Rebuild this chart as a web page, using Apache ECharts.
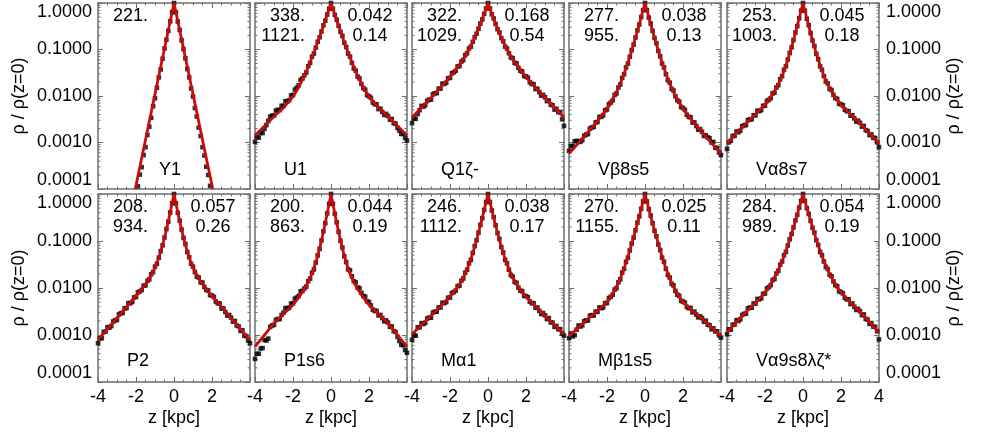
<!DOCTYPE html>
<html><head><meta charset="utf-8">
<script src="https://cdn.jsdelivr.net/npm/echarts@6/dist/echarts.min.js"></script>
<style>html,body{margin:0;padding:0;background:#fff}#c{width:981px;height:435px}</style>
</head><body><div id="c"></div>
<script>
// ---------- data ----------
const panelNames = ['Y1','U1','Q1ζ-','Vβ8s5','Vα8s7','P2','P1s6','Mα1','Mβ1s5','Vα9s8λζ*'];
const thinH  = ['221.','338.','322.','277.','253.','208.','200.','246.','270.','284.'];
const thickH = ['','1121.','1029.','955.','1003.','934.','863.','1112.','1155.','989.'];
const ratio  = ['','0.042','0.168','0.038','0.045','0.057','0.044','0.038','0.025','0.054'];
const frac   = ['','0.14','0.54','0.13','0.18','0.26','0.19','0.17','0.11','0.19'];
const xTicks = [-4,-2,0,2,4];
const yTicks = [0.0001,0.001,0.01,0.1,1];
const yMinorTicks = [2e-4,3e-4,4e-4,5e-4,6e-4,7e-4,8e-4,9e-4,2e-3,3e-3,4e-3,5e-3,6e-3,7e-3,8e-3,9e-3,
  0.02,0.03,0.04,0.05,0.06,0.07,0.08,0.09,0.2,0.3,0.4,0.5,0.6,0.7,0.8,0.9];

// fit curves (red)
const fitZ = [-4,-3.5,-3,-2.5,-2,-1.8,-1.6,-1.4,-1.2,-1,-0.9,-0.8,-0.7,-0.6,-0.5,-0.4,-0.3,-0.2,-0.1,0,
  0.1,0.2,0.3,0.4,0.5,0.6,0.7,0.8,0.9,1,1.2,1.4,1.6,1.8,2,2.5,3,3.5,4];
const fitZY1 = [-2.04,0,2.04];
const fitY1 = [1e-4,1,1e-4];
const fitU1 = [0.00142,0.00226,0.00363,0.0056,0.00964,0.0131,0.0185,0.0273,0.0419,0.067,0.0857,0.110,0.143,0.187,0.245,0.323,0.427,0.565,0.751,1,
  0.751,0.565,0.427,0.323,0.245,0.187,0.143,0.110,0.0857,0.067,0.0419,0.0273,0.0185,0.0131,0.00964,0.0056,0.00363,0.00226,0.00142];
const fitQ1 = [0.00344,0.0056,0.00918,0.0151,0.0257,0.0323,0.0413,0.0538,0.0723,0.1007,0.1208,0.1466,0.180,0.223,0.279,0.354,0.453,0.585,0.762,1,
  0.762,0.585,0.453,0.354,0.279,0.223,0.180,0.1466,0.1208,0.1007,0.0723,0.0538,0.0413,0.0323,0.0257,0.0151,0.00918,0.0056,0.00344];
const fitVb8s5 = [5.75e-4,9.7e-4,0.00166,0.00289,0.00538,0.00723,0.0101,0.0149,0.0234,0.0394,0.0521,0.070,0.0953,0.1306,0.181,0.252,0.353,0.498,0.705,1,
  0.705,0.498,0.353,0.252,0.181,0.1306,0.0953,0.070,0.0521,0.0394,0.0234,0.0149,0.0101,0.00723,0.00538,0.00289,0.00166,9.7e-4,5.75e-4];
const fitVa8s7 = [9.57e-4,0.00158,0.00259,0.00404,0.00649,0.00826,0.01084,0.0149,0.0219,0.0349,0.0456,0.0607,0.0824,0.1138,0.160,0.226,0.325,0.470,0.684,1,
  0.684,0.470,0.325,0.226,0.160,0.1138,0.0824,0.0607,0.0456,0.0349,0.0219,0.0149,0.01084,0.00826,0.00649,0.00404,0.00259,0.00158,9.57e-4];
const fitP2 = [7.87e-4,0.00134,0.0023,0.00392,0.00676,0.00846,0.0107,0.0139,0.0187,0.0272,0.0342,0.0443,0.0595,0.0827,0.1186,0.175,0.264,0.406,0.634,1,
  0.634,0.406,0.264,0.175,0.1186,0.0827,0.0595,0.0443,0.0342,0.0272,0.0187,0.0139,0.0107,0.00846,0.00676,0.00392,0.0023,0.00134,7.87e-4];
const fitP1s6 = [5.64e-4,1.0e-3,0.00179,0.00279,0.00438,0.00558,0.00721,0.00955,0.0133,0.0202,0.0261,0.0349,0.0484,0.0695,0.103,0.157,0.244,0.386,0.619,1,
  0.619,0.386,0.244,0.157,0.103,0.0695,0.0484,0.0349,0.0261,0.0202,0.0133,0.00955,0.00721,0.00558,0.00438,0.00279,0.00179,1.0e-3,5.64e-4];
const fitMa1 = [0.00104,0.00163,0.00256,0.00405,0.00658,0.00817,0.01045,0.0140,0.0202,0.032,0.0417,0.0557,0.0762,0.106,0.150,0.216,0.313,0.458,0.676,1,
  0.676,0.458,0.313,0.216,0.150,0.106,0.0762,0.0557,0.0417,0.032,0.0202,0.0140,0.01045,0.00817,0.00658,0.00405,0.00256,0.00163,0.00104];
const fitMb1s5 = [9.42e-4,0.00145,0.00224,0.00324,0.00502,0.0065,0.00885,0.0129,0.0203,0.0345,0.0462,0.063,0.0865,0.1205,0.169,0.239,0.340,0.485,0.697,1,
  0.697,0.485,0.340,0.239,0.169,0.1205,0.0865,0.063,0.0462,0.0345,0.0203,0.0129,0.00885,0.0065,0.00502,0.00324,0.00224,0.00145,9.42e-4];
const fitVa9 = [0.00114,0.00189,0.00313,0.00488,0.00798,0.0104,0.0141,0.01995,0.0299,0.0476,0.0615,0.0805,0.107,0.1439,0.195,0.267,0.369,0.512,0.714,1,
  0.714,0.512,0.369,0.267,0.195,0.1439,0.107,0.0805,0.0615,0.0476,0.0299,0.01995,0.0141,0.0104,0.00798,0.00488,0.00313,0.00189,0.00114];

// measured points (black), at z = -4.0 ... 4.0 step 0.1
const pointZ = [-4,-3.9,-3.8,-3.7,-3.6,-3.5,-3.4,-3.3,-3.2,-3.1,-3,-2.9,-2.8,-2.7,-2.6,-2.5,-2.4,-2.3,-2.2,-2.1,
  -2,-1.9,-1.8,-1.7,-1.6,-1.5,-1.4,-1.3,-1.2,-1.1,-1,-0.9,-0.8,-0.7,-0.6,-0.5,-0.4,-0.3,-0.2,-0.1,0,
  0.1,0.2,0.3,0.4,0.5,0.6,0.7,0.8,0.9,1,1.1,1.2,1.3,1.4,1.5,1.6,1.7,1.8,1.9,2,
  2.1,2.2,2.3,2.4,2.5,2.6,2.7,2.8,2.9,3,3.1,3.2,3.3,3.4,3.5,3.6,3.7,3.8,3.9,4];
const ptsY1 = [null,null,null,null,null,null,null,null,null,null,null,null,null,null,null,null,null,null,null,null,null,
  1.15e-4,2.04e-4,2.95e-4,5.37e-4,7.94e-4,1.45e-3,2.19e-3,3.39e-3,6.03e-3,8.91e-3,0.0151,0.0251,0.0372,0.0631,0.105,0.162,0.251,0.405,0.635,1,
  0.635,0.398,0.263,0.158,0.102,0.0646,0.038,0.0251,0.0145,9.77e-3,5.5e-3,3.63e-3,2.09e-3,1.38e-3,7.94e-4,5.25e-4,3.02e-4,2.0e-4,1.17e-4,
  null,null,null,null,null,null,null,null,null,null,null,null,null,null,null,null,null,null,null,null,null];
const ptsU1 = [1.03e-3,1.31e-3,1.27e-3,1.60e-3,1.60e-3,1.97e-3,2.37e-3,2.92e-3,3.61e-3,3.78e-3,3.80e-3,4.85e-3,5.04e-3,5.0e-3,6.14e-3,6.14e-3,7.76e-3,7.66e-3,8.15e-3,0.01026,
  0.01057,0.01374,0.01503,0.0170,0.0222,0.0239,0.0279,0.0321,0.0439,0.0515,0.0702,0.0818,0.110,0.1466,0.183,0.245,0.330,0.417,0.565,0.751,1,
  0.751,0.552,0.437,0.323,0.240,0.196,0.140,0.113,0.0818,0.0702,0.0515,0.0391,0.0352,0.0261,0.0239,0.0181,0.0148,0.0137,0.0104,9.86e-3,
  9.14e-3,7.26e-3,6.67e-3,6.61e-3,5.22e-3,5.35e-3,4.56e-3,3.91e-3,4.13e-3,3.72e-3,3.08e-3,3.21e-3,2.60e-3,2.54e-3,2.06e-3,1.79e-3,1.53e-3,1.53e-3,1.25e-3,1.10e-3];
const ptsQ1 = [2.61e-3,3.30e-3,3.24e-3,4.11e-3,4.97e-3,6.14e-3,5.89e-3,6.35e-3,7.85e-3,8.32e-3,8.38e-3,0.01086,0.01146,0.01153,0.01432,0.01445,0.0184,0.0182,0.0193,0.0241,
  0.0245,0.0308,0.0323,0.0348,0.0433,0.0439,0.0551,0.0594,0.0757,0.083,0.1054,0.1153,0.1466,0.184,0.218,0.279,0.362,0.443,0.585,0.762,1,
  0.762,0.571,0.463,0.354,0.273,0.233,0.176,0.150,0.1153,0.1054,0.083,0.0675,0.0652,0.0514,0.0504,0.0404,0.0348,0.0338,0.0269,0.0263,
  0.0247,0.0198,0.0182,0.0180,0.0141,0.0143,0.0121,0.0102,0.0106,9.4e-3,7.76e-3,8.04e-3,6.5e-3,6.31e-3,5.1e-3,5.32e-3,4.51e-3,4.48e-3,3.16e-3,2.28e-3];
const ptsVb8s5 = [6.61e-4,8.43e-4,8.36e-4,1.06e-3,1.08e-3,1.07e-3,1.03e-3,1.12e-3,1.40e-3,1.48e-3,1.52e-3,1.98e-3,2.11e-3,2.16e-3,2.70e-3,2.76e-3,3.56e-3,3.57e-3,3.86e-3,4.92e-3,
  5.14e-3,6.65e-3,7.23e-3,8.09e-3,0.01057,0.01138,0.01524,0.0177,0.0245,0.0294,0.0412,0.0498,0.070,0.0975,0.1276,0.181,0.258,0.345,0.498,0.705,1,
  0.705,0.486,0.361,0.252,0.177,0.1368,0.0931,0.0716,0.0498,0.0412,0.0294,0.0219,0.0194,0.0142,0.0131,9.86e-3,8.09e-3,7.57e-3,5.79e-3,5.51e-3,
  5.04e-3,3.95e-3,3.57e-3,3.48e-3,2.70e-3,2.70e-3,2.26e-3,1.88e-3,1.94e-3,1.70e-3,1.38e-3,1.43e-3,1.29e-3,1.24e-3,9.95e-4,1.03e-3,7.71e-4,7.62e-4,6.11e-4,5.37e-4];
const ptsVa8s7 = [7.26e-4,1.01e-3,1.09e-3,1.38e-3,1.39e-3,1.73e-3,1.66e-3,1.79e-3,2.23e-3,2.35e-3,2.37e-3,3.03e-3,3.15e-3,3.15e-3,3.86e-3,3.85e-3,4.84e-3,4.73e-3,4.97e-3,6.15e-3,
  6.19e-3,7.82e-3,8.26e-3,9.0e-3,0.01135,0.01178,0.01524,0.0171,0.023,0.0267,0.0366,0.0436,0.0607,0.0843,0.111,0.160,0.232,0.318,0.470,0.684,1,
  0.684,0.459,0.333,0.226,0.156,0.119,0.0805,0.0621,0.0436,0.0366,0.0267,0.0205,0.0187,0.0142,0.0135,0.0106,9.0e-3,8.65e-3,6.81e-3,6.64e-3,
  6.3e-3,5.08e-3,4.73e-3,4.73e-3,3.77e-3,3.86e-3,3.30e-3,2.81e-3,2.96e-3,2.65e-3,2.19e-3,2.28e-3,1.84e-3,1.78e-3,1.44e-3,1.49e-3,1.26e-3,1.25e-3,1.01e-3,7.96e-4];
const ptsP2 = [6.7e-4,8.5e-4,8.5e-4,1.16e-3,1.18e-3,1.47e-3,1.43e-3,1.55e-3,1.94e-3,2.06e-3,2.09e-3,2.74e-3,2.91e-3,2.95e-3,3.69e-3,3.74e-3,4.79e-3,4.74e-3,5.05e-3,6.3e-3,
  6.46e-3,8.1e-3,8.45e-3,9.08e-3,0.0112,0.0113,0.0142,0.0153,0.0196,0.0218,0.0285,0.0327,0.0443,0.061,0.0809,0.1186,0.1795,0.258,0.406,0.634,1,
  0.634,0.397,0.270,0.175,0.116,0.0867,0.0582,0.0453,0.0327,0.0285,0.0218,0.0175,0.0167,0.0132,0.0130,0.0105,9.1e-3,8.85e-3,7.06e-3,6.92e-3,
  6.44e-3,5.16e-3,4.74e-3,4.68e-3,3.66e-3,3.69e-3,3.09e-3,2.59e-3,2.67e-3,2.35e-3,1.92e-3,1.99e-3,1.59e-3,1.53e-3,1.22e-3,1.26e-3,9.7e-4,9.5e-4,7.6e-4,6.7e-4];
const ptsP1s6 = [3.10e-4,3.99e-4,3.99e-4,5.15e-4,5.27e-4,7.8e-4,7.64e-4,8.38e-4,1.49e-3,1.60e-3,1.64e-3,2.10e-3,2.19e-3,2.18e-3,2.67e-3,2.99e-3,3.75e-3,3.65e-3,3.80e-3,4.67e-3,
  4.69e-3,5.94e-3,6.27e-3,6.78e-3,8.47e-3,8.67e-3,9.77e-3,0.0107,0.01396,0.01585,0.0212,0.0249,0.0349,0.0495,0.0679,0.103,0.161,0.239,0.386,0.619,1,
  0.619,0.378,0.250,0.157,0.1007,0.0728,0.0473,0.0357,0.0249,0.0238,0.0178,0.01396,0.01315,0.01023,9.95e-3,7.91e-3,6.78e-3,6.56e-3,5.18e-3,5.02e-3,
  4.26e-3,3.47e-3,3.25e-3,3.27e-3,2.61e-3,2.67e-3,2.29e-3,1.95e-3,2.05e-3,1.84e-3,1.49e-3,1.52e-3,1.21e-3,1.16e-3,9.16e-4,7.45e-4,6.19e-4,6.04e-4,4.80e-4,4.18e-4];
const ptsMa1 = [7.89e-4,9.91e-4,9.66e-4,1.46e-3,1.46e-3,1.79e-3,1.71e-3,1.82e-3,2.24e-3,2.34e-3,2.33e-3,3.0e-3,3.13e-3,3.13e-3,3.84e-3,3.86e-3,4.86e-3,4.76e-3,5.01e-3,6.22e-3,
  6.28e-3,7.83e-3,8.17e-3,8.79e-3,0.01094,0.01122,0.01435,0.0159,0.0212,0.0245,0.0335,0.0398,0.0557,0.078,0.1038,0.150,0.221,0.306,0.458,0.676,1,
  0.676,0.448,0.321,0.216,0.147,0.111,0.0745,0.0570,0.0398,0.0335,0.0245,0.0189,0.0175,0.0134,0.0129,0.0102,8.79e-3,8.55e-3,6.82e-3,6.73e-3,
  6.37e-3,5.13e-3,4.76e-3,4.75e-3,3.78e-3,3.84e-3,3.27e-3,2.79e-3,2.93e-3,2.62e-3,2.18e-3,2.29e-3,1.87e-3,1.83e-3,1.49e-3,1.56e-3,1.33e-3,1.33e-3,1.09e-3,9.7e-4];
const ptsMb1s5 = [8.59e-4,1.08e-3,9.31e-4,9.93e-4,1.30e-3,1.59e-3,1.51e-3,1.61e-3,1.97e-3,2.05e-3,2.04e-3,2.57e-3,2.65e-3,2.60e-3,3.15e-3,3.10e-3,3.85e-3,3.72e-3,3.87e-3,4.76e-3,
  4.80e-3,6.10e-3,6.50e-3,7.19e-3,9.27e-3,9.89e-3,0.0132,0.0153,0.0212,0.0256,0.0361,0.0442,0.063,0.0885,0.118,0.169,0.245,0.333,0.485,0.697,1,
  0.697,0.474,0.348,0.239,0.165,0.126,0.0845,0.0644,0.0442,0.0361,0.0256,0.0189,0.0167,0.0123,0.0114,8.65e-3,7.19e-3,6.81e-3,5.31e-3,5.14e-3,
  4.88e-3,3.96e-3,3.72e-3,3.76e-3,3.03e-3,3.15e-3,2.72e-3,2.37e-3,2.51e-3,2.29e-3,1.91e-3,2.02e-3,1.65e-3,1.62e-3,1.32e-3,1.39e-3,1.19e-3,1.20e-3,9.82e-4,8.79e-4];
const ptsVa9 = [1.04e-3,1.32e-3,1.30e-3,1.65e-3,1.67e-3,2.07e-3,1.99e-3,2.15e-3,2.67e-3,2.82e-3,2.85e-3,3.68e-3,3.83e-3,3.81e-3,4.68e-3,4.66e-3,5.86e-3,5.75e-3,6.05e-3,7.52e-3,
  7.62e-3,9.75e-3,0.01042,0.0115,0.01476,0.01556,0.0204,0.0232,0.0313,0.0366,0.0499,0.0587,0.0805,0.1094,0.1406,0.195,0.274,0.361,0.512,0.714,1,
  0.714,0.500,0.378,0.267,0.191,0.151,0.1045,0.0824,0.0587,0.0499,0.0366,0.0279,0.0254,0.0191,0.0179,0.0138,0.0115,0.0109,8.49e-3,8.17e-3,
  7.69e-3,6.19e-3,5.75e-3,5.73e-3,4.55e-3,4.68e-3,3.99e-3,3.41e-3,3.60e-3,3.20e-3,2.64e-3,2.74e-3,2.20e-3,2.13e-3,1.72e-3,1.79e-3,1.51e-3,1.49e-3,1.20e-3,8.05e-4];

const fits = [fitY1,fitU1,fitQ1,fitVb8s5,fitVa8s7,fitP2,fitP1s6,fitMa1,fitMb1s5,fitVa9];
const pts = [ptsY1,ptsU1,ptsQ1,ptsVb8s5,ptsVa8s7,ptsP2,ptsP1s6,ptsMa1,ptsMb1s5,ptsVa9];

// ---------- layout ----------
const colLeft = [98,255,412,569,727];
const rowTop = [3,194];
const rowH = [186,188];
const pw = 152;
const axisColor = '#6e6e6e';
const FONT = '"Liberation Sans", Arial, Helvetica, sans-serif';
const txt = {fontSize:18, fontFamily:FONT, color:'#000'};

const grid=[], xAxis=[], yAxis=[], series=[], graphic=[];
for (let i=0;i<10;i++){
  const row = i<5?0:1, col = i%5;
  grid.push({left:colLeft[col], top:rowTop[row], width:pw, height:rowH[row], containLabel:false});
  const xBase = {type:'value', gridIndex:i, min:xTicks[0], max:xTicks[xTicks.length-1], interval:2,
    axisLine:{show:true,onZero:false,lineStyle:{color:axisColor,width:1.5}},
    axisTick:{show:true,inside:true,length:5,lineStyle:{color:axisColor,width:1}},
    minorTick:{show:true,splitNumber:4,length:2.5,lineStyle:{color:axisColor,width:1}},
    splitLine:{show:false}, minorSplitLine:{show:false}};
  xAxis.push(Object.assign({}, xBase, {position:'bottom',
    axisLabel:{show:row===1, margin:6, showMaxLabel:col===4, showMinLabel:true, ...txt},
    name: row===1?'z [kpc]':'', nameLocation:'middle', nameGap:27, nameTextStyle:{...txt}}));
  xAxis.push(Object.assign({}, xBase, {position:'top', axisLabel:{show:false}}));
  const yBase = {type:'log', logBase:10, gridIndex:i, min:yTicks[0], max:yTicks[yTicks.length-1], splitNumber:4,
    axisLine:{show:true,onZero:false,lineStyle:{color:axisColor,width:1.5}},
    axisTick:{show:true,inside:true,length:5,lineStyle:{color:axisColor,width:1}},
    splitLine:{show:false}};
  const lab = {formatter:v=>v.toFixed(4), verticalAlignMaxLabel:'top', verticalAlignMinLabel:'bottom', ...txt};
  yAxis.push(Object.assign({}, yBase, {position:'left',
    axisLabel:Object.assign({show:col===0, margin:6}, lab),
    name: col===0?'ρ / ρ(z=0)':'', nameLocation:'middle', nameRotate:90, nameGap:70, nameTextStyle:{...txt}}));
  yAxis.push(Object.assign({}, yBase, {position:'right',
    axisLabel:Object.assign({show:col===4, margin:7}, lab),
    name: col===4?'ρ / ρ(z=0)':'', nameLocation:'middle', nameRotate:90, nameGap:66, nameTextStyle:{...txt}}));

  // minor log ticks on left and right edges
  series.push({type:'custom', xAxisIndex:2*i, yAxisIndex:2*i, silent:true, z:1,
    data: yMinorTicks.map(v=>[0,v]), encode:{x:0,y:1},
    renderItem:(params, api)=>{
      const y = api.coord([0, api.value(1)])[1];
      const cs = params.coordSys;
      return {type:'group', children:[
        {type:'line', shape:{x1:cs.x, y1:y, x2:cs.x+2.5, y2:y}, style:{stroke:axisColor, lineWidth:1}},
        {type:'line', shape:{x1:cs.x+cs.width, y1:y, x2:cs.x+cs.width-2.5, y2:y}, style:{stroke:axisColor, lineWidth:1}}
      ]};
    }});
  const d=[]; pts[i].forEach((v,k)=>{ if(v!=null) d.push([pointZ[k],v]); });
  series.push({type:'scatter', xAxisIndex:2*i, yAxisIndex:2*i, data:d, symbol:'rect', symbolSize:4.6,
    itemStyle:{color:'#000'}, z:2, silent:true});
  const zz = i===0?fitZY1:fitZ;
  series.push({type:'line', xAxisIndex:2*i, yAxisIndex:2*i, data:fits[i].map((v,k)=>[zz[k],v]),
    symbol:'none', clip:false, z:3, silent:true,
    lineStyle:{color:'#cc0a0a', width:2.8, join:'miter', miterLimit:3}});

  // annotations
  const L = colLeft[col], T = rowTop[row];
  const font = '18px ' + FONT;
  graphic.push({type:'text', x:L+50, y:T+13, style:{text:thinH[i], font, fill:'#000', textAlign:'right', textVerticalAlign:'middle', verticalAlign:'middle'}});
  if (thickH[i]) graphic.push({type:'text', x:L+50, y:T+33, style:{text:thickH[i], font, fill:'#000', textAlign:'right', textVerticalAlign:'middle', verticalAlign:'middle'}});
  if (ratio[i]) graphic.push({type:'text', x:L+115, y:T+13, style:{text:ratio[i], font, fill:'#000', textAlign:'center', textVerticalAlign:'middle', verticalAlign:'middle'}});
  if (frac[i]) graphic.push({type:'text', x:L+115, y:T+33, style:{text:frac[i], font, fill:'#000', textAlign:'center', textVerticalAlign:'middle', verticalAlign:'middle'}});
  graphic.push({type:'text', x:L+(i===0?61:29), y:T+167, style:{text:panelNames[i], font, fill:'#000', textAlign:'left', textVerticalAlign:'middle', verticalAlign:'middle'}});
}

const chart = echarts.init(document.getElementById('c'), null, {width:981, height:435});
chart.setOption({animation:false, backgroundColor:'#fff', grid, xAxis, yAxis, series, graphic});
</script></body></html>
